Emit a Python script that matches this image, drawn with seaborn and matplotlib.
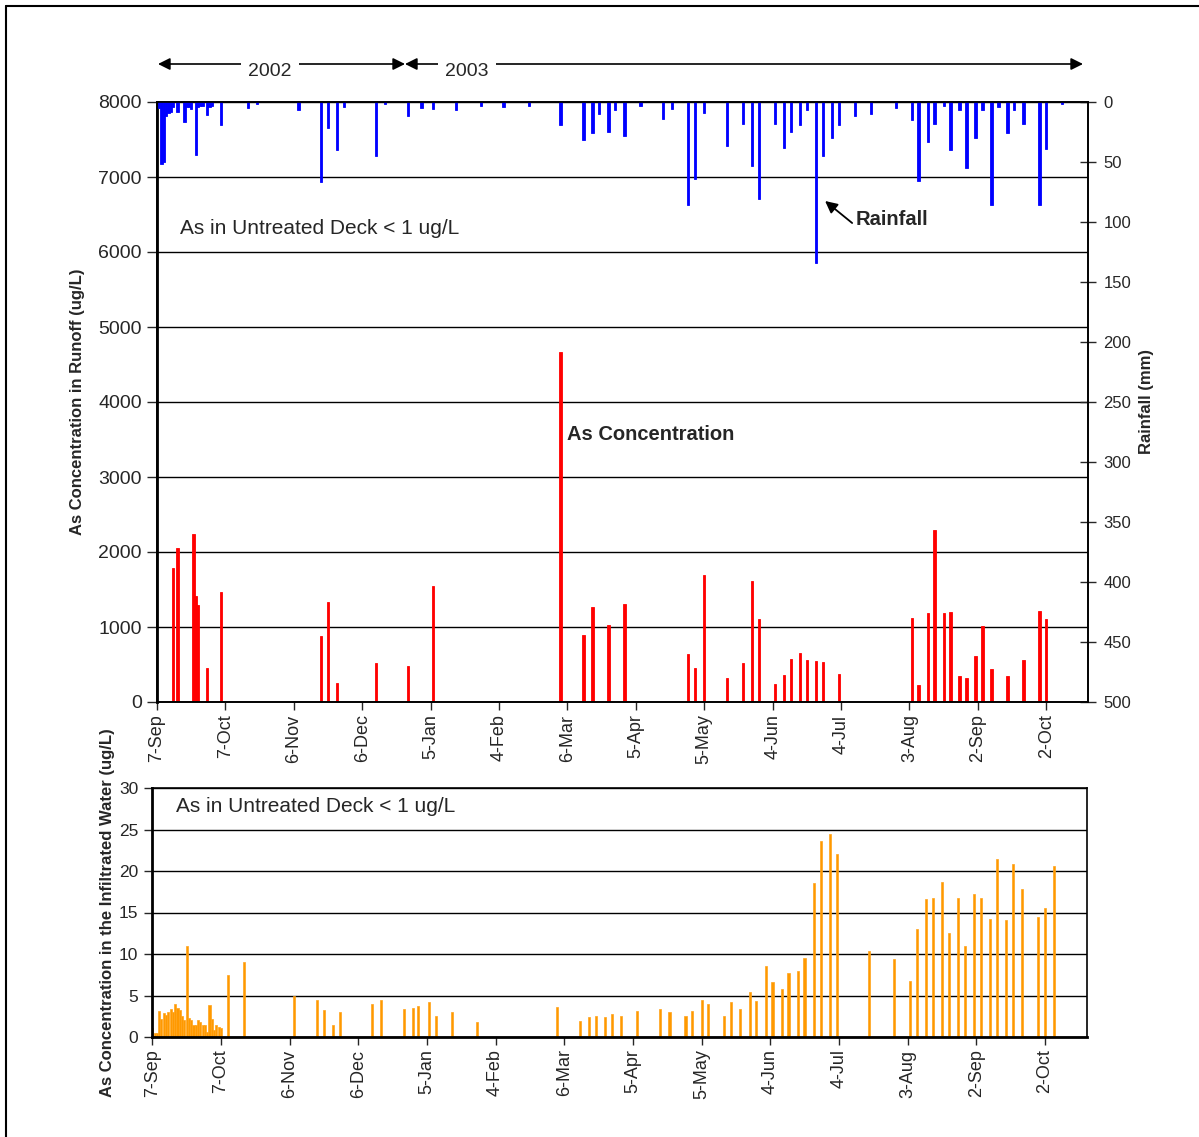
import numpy as np
import pandas as pd
import matplotlib
matplotlib.use("Agg")
import matplotlib.pyplot as plt
import seaborn as sns
from matplotlib.lines import Line2D

# ---------------- data (days after 7-Sep-2002) ----------------
rain_day = [1, 2, 3, 4, 5, 6, 7, 9, 12, 13, 14, 15, 17, 18, 19, 20, 22, 23, 24, 28,
            40, 44, 62, 72, 75, 79, 82, 96, 100, 110, 116, 121, 131, 142, 152, 163,
            177, 187, 191, 194, 198, 201, 205, 212, 222, 226, 233, 236, 240, 250,
            257, 261, 264, 271, 275, 278, 282, 285, 289, 292, 296, 299, 306, 313,
            324, 331, 334, 338, 341, 345, 348, 352, 355, 359, 362, 366, 369, 373,
            376, 380, 387, 390, 397]
rain_mm = [5, 52, 50, 12, 9, 8, 4, 8, 17, 4, 4, 6, 44, 4, 3, 3, 11, 4, 3, 19,
           5, 2, 7, 67, 22, 40, 4, 45, 2, 12, 5, 6, 7, 3, 4, 3,
           19, 32, 26, 10, 25, 7, 28, 3, 14, 6, 86, 64, 9, 37,
           18, 53, 81, 18, 38, 25, 19, 7, 134, 45, 30, 19, 12, 10,
           5, 15, 66, 33, 18, 3, 40, 7, 55, 30, 7, 86, 4, 26,
           7, 18, 86, 39, 1.5]

conc_day = [7, 9, 16, 17, 18, 22, 28, 72, 75, 79, 96, 110, 121, 177, 187, 191, 198,
            205, 233, 236, 240, 250, 257, 261, 264, 271, 275, 278, 282, 285, 289,
            292, 299, 331, 334, 338, 341, 345, 348, 352, 355, 359, 362, 366, 373,
            380, 387, 390]
conc_val = [1790, 2050, 2240, 1410, 1300, 453, 1470, 876, 1333, 249, 516, 484, 1547,
            4667, 898, 1262, 1022, 1302, 645, 453, 1689, 316, 524, 1609, 1102, 236,
            360, 573, 658, 556, 542, 538, 373, 1124, 227, 1182, 2293, 1182, 1200, 347,
            316, 613, 1009, 436, 347, 564, 1213, 1102]

infil_day = list(range(0, 31)) + [
    33, 40, 62, 72, 75, 79, 82, 96, 100, 110, 114, 116, 121, 124, 131, 142, 177,
    187, 191, 194, 198, 201, 205, 212, 222, 226, 233, 236, 240, 243, 250, 253, 257,
    261, 264, 268, 271, 275, 278, 282, 285, 289, 292, 296, 299, 313, 324, 331, 334,
    338, 341, 345, 348, 352, 355, 359, 362, 366, 369, 373, 376, 380, 387, 390, 394]
infil_val = [1.1, 0.5, 0.5, 3.1, 2.2, 2.9, 2.7, 3.0, 3.4, 3.0, 4.0, 3.5, 3.2, 2.5, 2.1,
             11.0, 2.3, 2.0, 1.5, 1.5, 2.1, 1.8, 1.5, 1.4, 0.6, 3.8, 2.2, 0.9, 1.4,
             1.2, 1.1,
             7.5, 9.0, 5.0, 4.4, 3.2, 1.4, 3.0, 4.0, 4.5, 3.4, 3.5, 3.7, 4.2, 2.5, 3.0,
             1.8, 3.6, 1.9, 2.4, 2.5, 2.4, 2.8, 2.5, 3.1, 3.4, 3.0, 2.5, 3.1, 4.5, 4.0,
             2.5, 4.2, 3.4, 5.4, 4.3, 8.6, 6.6, 5.8, 7.7, 7.9, 9.5, 18.6, 23.6, 24.4,
             22.1, 10.4, 9.4, 6.8, 13.0, 16.6, 16.8, 18.7, 12.5, 16.8, 11.0, 17.2,
             16.7, 14.2, 21.4, 14.1, 20.8, 17.8, 14.4, 15.6, 20.6]

tick_labels = ["7-Sep", "7-Oct", "6-Nov", "6-Dec", "5-Jan", "4-Feb", "6-Mar",
               "5-Apr", "5-May", "4-Jun", "4-Jul", "3-Aug", "2-Sep", "2-Oct"]
tick_days = list(range(0, 30 * len(tick_labels), 30))

# ---------------- style ----------------
sns.set_style("white")
plt.rcParams['font.family'] = ['Liberation Sans', 'DejaVu Sans']

W, H = 1199, 1137
fig = plt.figure(figsize=(W / 100, H / 100), dpi=100)

XMAX = 408.3

# ---------------- top panel ----------------
ax = fig.add_axes([157 / W, 1 - 702 / H, 931 / W, 600 / H])
ax2 = ax.twinx()

sns.barplot(x=conc_day, y=conc_val, native_scale=True, color='#FF0000',
            saturation=1, width=1.0, errorbar=None, linewidth=0.6,
            edgecolor='#FF0000', ax=ax)
sns.barplot(x=rain_day, y=rain_mm, native_scale=True, color='#0000FF',
            saturation=1, width=1.0, errorbar=None, linewidth=0.6,
            edgecolor='#0000FF', ax=ax2)

ax.set_xlim(0, XMAX)
ax.set_ylim(0, 8000)
ax.set_yticks(range(0, 8001, 1000))
ax2.set_ylim(500, 0)
ax2.set_yticks(range(0, 501, 50))
ax.set_xticks(tick_days)
ax.set_xticklabels(tick_labels, rotation=90)
ax.yaxis.grid(True, color='black', lw=1)
ax.xaxis.grid(False)
ax.set_axisbelow(True)

ax.tick_params(axis='x', bottom=True, direction='out', length=6, width=1,
               labelsize=13, pad=3)
ax.tick_params(axis='y', left=True, direction='out', length=7, width=1,
               labelsize=14, pad=4)
ax2.tick_params(axis='y', right=True, direction='inout', length=12, width=1,
                labelsize=12, pad=5)
for a in (ax, ax2):
    for s in a.spines.values():
        s.set_color('black')
        s.set_linewidth(1.2)
ax.spines['left'].set_linewidth(2)

ax.set_xlabel('')
ax.set_ylabel('As Concentration in Runoff (ug/L)', fontsize=12, fontweight='bold')
ax.yaxis.set_label_coords(-0.0773, 0.5)
ax2.set_ylabel('Rainfall (mm)', fontsize=12, fontweight='bold')
ax2.yaxis.set_label_coords(1.0548, 0.5)

ax.text(10.1, 6307, 'As in Untreated Deck < 1 ug/L', fontsize=15,
        ha='left', va='center')
ax.text(179.8, 3560, 'As Concentration', fontsize=14.5, fontweight='bold',
        ha='left', va='center')
ax.annotate('Rainfall', xy=(293, 6680), xytext=(306.3, 6427), fontsize=14.5,
            fontweight='bold', ha='left', va='center',
            arrowprops=dict(arrowstyle='-|>', color='black', lw=1.3,
                            mutation_scale=18, shrinkA=0, shrinkB=0,
                            relpos=(0, 0.2)))

# ---------------- year arrows ----------------
ya = H - 64
for x0, x1 in [(158, 405), (405, 1083)]:
    fig.add_artist(matplotlib.patches.FancyArrowPatch(
        (x0 / W, ya / H), (x1 / W, ya / H), transform=fig.transFigure,
        arrowstyle='<|-|>', mutation_scale=18, lw=1.2, color='black',
        shrinkA=0, shrinkB=0))
for xc, lab in [(270, '2002'), (467, '2003')]:
    fig.text(xc / W, (H - 71) / H, lab, fontsize=14, ha='center', va='center',
             bbox=dict(facecolor='white', edgecolor='none', pad=5))

# ---------------- bottom panel ----------------
bx = fig.add_axes([152.3 / W, 1 - 1037 / H, 934.4 / W, 249 / H])
sns.barplot(x=infil_day, y=infil_val, native_scale=True, color='#FF9900',
            saturation=1, width=0.9, errorbar=None, linewidth=0.5,
            edgecolor='#FFA31A', ax=bx)
bx.set_xlim(0, XMAX)
bx.set_ylim(0, 30)
bx.set_yticks(range(0, 31, 5))
bx.set_xticks(tick_days)
bx.set_xticklabels(tick_labels, rotation=90)
bx.yaxis.grid(True, color='black', lw=1)
bx.xaxis.grid(False)
bx.set_axisbelow(True)
bx.tick_params(axis='x', bottom=True, direction='out', length=6, width=1,
               labelsize=13, pad=3)
bx.tick_params(axis='y', left=True, direction='out', length=6, width=1,
               labelsize=12.5, pad=4)
for s in bx.spines.values():
    s.set_color('black')
    s.set_linewidth(1.2)
bx.spines['left'].set_linewidth(2)
bx.spines['bottom'].set_linewidth(2)
bx.set_xlabel('')
bx.set_ylabel('As Concentration in the Infiltrated Water (ug/L)', fontsize=12,
              fontweight='bold')
bx.yaxis.set_label_coords(-0.0399, 0.5)
bx.text(10.4, 27.8, 'As in Untreated Deck < 1 ug/L', fontsize=15,
        ha='left', va='center')

# ---------------- outer frame (left and top edges) ----------------
fig.add_artist(Line2D([5.5 / W, 5.5 / W], [0, 1 - 5.5 / H],
                      transform=fig.transFigure, color='black', lw=1.5))
fig.add_artist(Line2D([5.5 / W, 1], [1 - 5.5 / H, 1 - 5.5 / H],
                      transform=fig.transFigure, color='black', lw=1.5))

fig.savefig('out.png', dpi=100)
